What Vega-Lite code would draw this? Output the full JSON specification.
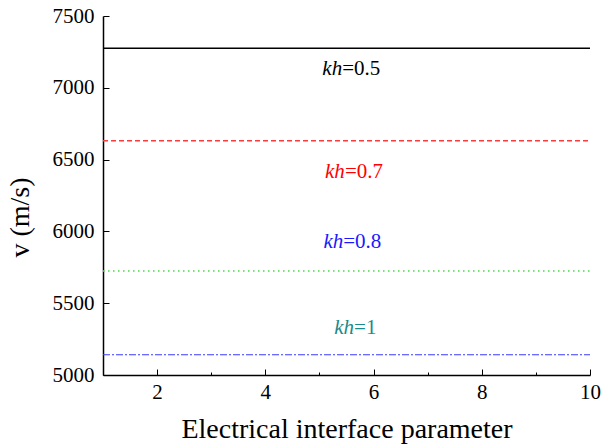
{
  "$schema": "https://vega.github.io/schema/vega-lite/v6.json",
  "width": 487,
  "height": 359,
  "autosize": "none",
  "padding": {"left": 103, "top": 16, "right": 13, "bottom": 69},
  "background": "white",
  "config": {
    "view": {"stroke": null},
    "font": "Liberation Serif",
    "axis": {
      "domainColor": "black",
      "domainWidth": 1.5,
      "tickColor": "black",
      "tickWidth": 1,
      "grid": false,
      "labelFont": "Liberation Serif",
      "labelFontSize": 21,
      "labelFontWeight": "normal",
      "labelColor": "black",
      "labelFlush": false,
      "labelOverlap": false,
      "titleFont": "Liberation Serif",
      "titleFontSize": 28,
      "titleFontWeight": "normal",
      "titleColor": "black"
    }
  },
  "datasets": {
    "lines": [
      {"p": 1, "v": 7275, "series": "kh=0.5"},
      {"p": 10, "v": 7275, "series": "kh=0.5"},
      {"p": 1, "v": 6632, "series": "kh=0.7"},
      {"p": 10, "v": 6632, "series": "kh=0.7"},
      {"p": 1, "v": 5724, "series": "kh=0.8"},
      {"p": 10, "v": 5724, "series": "kh=0.8"},
      {"p": 1, "v": 5141, "series": "kh=1"},
      {"p": 10, "v": 5141, "series": "kh=1"}
    ],
    "labels": [
      {"p": 5.42, "v": 7131, "kh": "kh", "rest": "=0.5", "label": "kh=0.5"},
      {"p": 5.47, "v": 6414, "kh": "kh", "rest": "=0.7", "label": "kh=0.7"},
      {"p": 5.44, "v": 5926, "kh": "kh", "rest": "=0.8", "label": "kh=0.8"},
      {"p": 5.64, "v": 5327, "kh": "kh", "rest": "=1", "label": "kh=1"}
    ]
  },
  "layer": [
    {
      "data": {"name": "lines"},
      "mark": {"type": "line", "clip": true},
      "encoding": {
        "x": {
          "field": "p", "type": "quantitative",
          "scale": {"domain": [1, 10], "nice": false, "zero": false},
          "axis": {
            "title": "Electrical interface parameter",
            "titleY": 62,
            "titleBaseline": "alphabetic",
            "values": [1, 2, 3, 4, 5, 6, 7, 8, 9, 10],
            "labelExpr": "datum.value % 2 == 0 ? format(datum.value, 'd') : ''",
            "tickSize": {"expr": "datum.value % 2 == 0 ? -6 : -3"},
            "labelPadding": 12
          }
        },
        "y": {
          "field": "v", "type": "quantitative",
          "scale": {"domain": [5000, 7500], "nice": false, "zero": false},
          "axis": {
            "title": "v (m/s)",
            "titleY": 201,
            "values": [5000, 5250, 5500, 5750, 6000, 6250, 6500, 6750, 7000, 7250, 7500],
            "labelExpr": "datum.value % 500 == 0 ? format(datum.value, 'd') : ''",
            "tickSize": {"expr": "datum.value % 500 == 0 ? -6 : -3"},
            "labelPadding": 15,
            "titlePadding": 18
          }
        },
        "detail": {"field": "series"},
        "color": {
          "field": "series", "type": "nominal",
          "scale": {"domain": ["kh=0.5", "kh=0.7", "kh=0.8", "kh=1"], "range": ["#000000", "#ff3b3b", "#44dd44", "#3b3bff"]},
          "legend": null
        },
        "strokeDash": {
          "field": "series", "type": "nominal",
          "scale": {"domain": ["kh=0.5", "kh=0.7", "kh=0.8", "kh=1"], "range": [[1, 0], [5, 3], [1.5, 3.5], [7, 2, 2, 2]]},
          "legend": null
        },
        "strokeWidth": {
          "field": "series", "type": "nominal",
          "scale": {"domain": ["kh=0.5", "kh=0.7", "kh=0.8", "kh=1"], "range": [1.6, 1.2, 1.2, 1.2]},
          "legend": null
        }
      }
    },
    {
      "data": {"name": "labels"},
      "mark": {"type": "text", "align": "right", "baseline": "middle", "fontStyle": "italic", "fontWeight": "normal", "fontSize": 21, "font": "Liberation Serif"},
      "encoding": {
        "x": {"field": "p", "type": "quantitative"},
        "y": {"field": "v", "type": "quantitative"},
        "text": {"field": "kh"},
        "color": {
          "field": "label", "type": "nominal",
          "scale": {"domain": ["kh=0.5", "kh=0.7", "kh=0.8", "kh=1"], "range": ["#000000", "#ff0000", "#1a1aff", "#1a8a8a"]},
          "legend": null
        }
      }
    },
    {
      "data": {"name": "labels"},
      "mark": {"type": "text", "align": "left", "baseline": "middle", "fontStyle": "normal", "fontWeight": "normal", "fontSize": 21, "font": "Liberation Serif"},
      "encoding": {
        "x": {"field": "p", "type": "quantitative"},
        "y": {"field": "v", "type": "quantitative"},
        "text": {"field": "rest"},
        "color": {
          "field": "label", "type": "nominal",
          "scale": {"domain": ["kh=0.5", "kh=0.7", "kh=0.8", "kh=1"], "range": ["#000000", "#ff0000", "#1a1aff", "#1a8a8a"]},
          "legend": null
        }
      }
    }
  ],
  "resolve": {"scale": {"color": "independent", "strokeDash": "independent", "strokeWidth": "independent"}}
}
